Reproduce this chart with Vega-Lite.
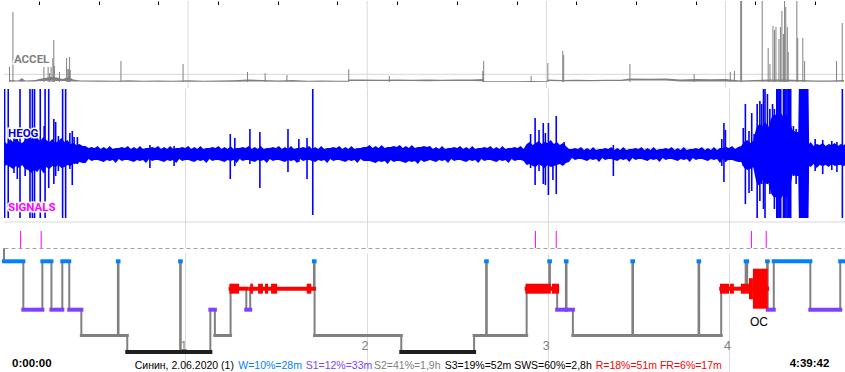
{
"$schema": "https://vega.github.io/schema/vega-lite/v6.json",
"background": "white",
"padding": 0,
"spacing": 0,
"bounds": "flush",
"resolve": {"scale": {"color": "independent"}},
"config": {"view": {"stroke": null}, "font": "Liberation Sans"},
"datasets": {
"accelBand": [
{"t":0,"lo":0.5,"hi":2},{"t":3,"lo":0.5,"hi":1.5},{"t":4.3,"lo":0.5,"hi":3.5},{"t":5.5,"lo":0.5,"hi":1.5},{"t":9,"lo":0.5,"hi":2},{"t":10,"lo":1,"hi":3},{"t":12,"lo":1,"hi":4},{"t":14,"lo":1.5,"hi":5},{"t":16,"lo":1,"hi":4.5},{"t":18,"lo":1,"hi":3},{"t":20,"lo":1,"hi":5},{"t":21.5,"lo":0.5,"hi":2.5},{"t":24,"lo":0.5,"hi":1.5},{"t":30,"lo":0.3,"hi":1.5},{"t":36,"lo":0.3,"hi":1.2},{"t":40,"lo":0.3,"hi":1.8},{"t":45,"lo":0.3,"hi":1.2},{"t":50,"lo":0.3,"hi":1.5},{"t":55,"lo":0.3,"hi":1.3},{"t":60,"lo":0.3,"hi":1.8},{"t":65,"lo":0.3,"hi":1.2},{"t":70,"lo":0.3,"hi":1.5},{"t":75,"lo":0.3,"hi":1.8},{"t":80,"lo":0.5,"hi":2.5},{"t":85,"lo":0.5,"hi":2},{"t":90,"lo":0.3,"hi":1.5},{"t":95,"lo":0.3,"hi":2},{"t":100,"lo":0.3,"hi":1.3},{"t":105,"lo":0.3,"hi":1.5},{"t":110,"lo":0.3,"hi":1.3},{"t":113.5,"lo":0.3,"hi":1.3},{"t":113.8,"lo":1,"hi":2.5},{"t":118,"lo":1,"hi":2.5},{"t":125,"lo":1,"hi":2.3},{"t":130,"lo":1,"hi":2.5},{"t":135,"lo":1,"hi":2.3},{"t":140,"lo":0.8,"hi":2.5},{"t":145,"lo":1,"hi":2.3},{"t":150,"lo":1,"hi":2.6},{"t":155,"lo":1,"hi":2.5},{"t":158.8,"lo":0.8,"hi":3},{"t":159.2,"lo":0,"hi":0.8},{"t":165,"lo":0,"hi":0.8},{"t":170,"lo":0,"hi":0.7},{"t":175,"lo":0,"hi":1},{"t":180,"lo":0,"hi":0.8},{"t":180.5,"lo":1,"hi":2.5},{"t":185,"lo":0.8,"hi":2},{"t":190,"lo":0.8,"hi":2.3},{"t":195,"lo":0.8,"hi":2},{"t":200,"lo":1,"hi":2.3},{"t":205,"lo":1,"hi":2.2},{"t":208,"lo":1.5,"hi":3.5},{"t":215,"lo":1.5,"hi":3.2},{"t":220,"lo":1.5,"hi":3.5},{"t":225,"lo":0.5,"hi":2.5},{"t":230,"lo":0.5,"hi":3},{"t":235,"lo":0.5,"hi":2.8},{"t":240,"lo":0.5,"hi":3},{"t":245,"lo":0.3,"hi":1.5},{"t":250,"lo":0.5,"hi":2},{"t":255,"lo":0.5,"hi":2.5},{"t":260,"lo":0.5,"hi":2.5},{"t":265,"lo":0.5,"hi":2},{"t":270,"lo":0.3,"hi":1.5},{"t":275,"lo":0.3,"hi":1.5},{"t":279.7,"lo":0.5,"hi":2}
],
"accelSpikes": [
{"t":0.17,"v":15},{"t":1.32,"v":70},{"t":4.3,"v":4},{"t":11.7,"v":15},{"t":13.1,"v":15},{"t":13.6,"v":9},{"t":14.1,"v":15},{"t":14.7,"v":24},{"t":15.0,"v":42},{"t":15.2,"v":16},{"t":16.9,"v":10},{"t":19.3,"v":24},{"t":19.7,"v":13},{"t":20.0,"v":13},{"t":20.3,"v":25},{"t":20.5,"v":12},{"t":37.5,"v":21},{"t":58.3,"v":18},{"t":79.9,"v":10},{"t":85.8,"v":9},{"t":93.1,"v":7},{"t":113.8,"v":12.7},{"t":127.4,"v":6},{"t":158.7,"v":11},{"t":159.0,"v":21},{"t":174.9,"v":6},{"t":180.5,"v":19},{"t":185.5,"v":31},{"t":185.8,"v":27},{"t":208.0,"v":18},{"t":229.5,"v":8},{"t":241.6,"v":10},{"t":243.0,"v":11},{"t":245.1,"v":81},{"t":245.4,"v":81},{"t":252.3,"v":81},{"t":254.3,"v":34},{"t":254.9,"v":18},{"t":255.9,"v":56},{"t":256.4,"v":52},{"t":256.9,"v":55},{"t":257.9,"v":43},{"t":258.4,"v":55},{"t":258.9,"v":71},{"t":259.4,"v":48},{"t":259.8,"v":81},{"t":260.2,"v":75},{"t":260.7,"v":55},{"t":261.0,"v":30},{"t":263.9,"v":81},{"t":264.2,"v":44},{"t":265.9,"v":44},{"t":266.5,"v":21},{"t":277.2,"v":21},{"t":279.1,"v":59}
],
"accelRef": [{"v":7.7}],
"accelLabel": [{"t":1.66,"v":21.8,"label":"ACCEL"}],
"heog": [
{"t":0,"hi":13,"lo":-12},{"t":1,"hi":10,"lo":-11},{"t":2,"hi":15,"lo":-13},{"t":3,"hi":12,"lo":-15},{"t":4,"hi":16,"lo":-12},{"t":5,"hi":12,"lo":-14},{"t":6,"hi":11,"lo":-11},{"t":7,"hi":14,"lo":-15},{"t":8,"hi":17,"lo":-16},{"t":9,"hi":15,"lo":-19},{"t":10,"hi":19,"lo":-16},{"t":11,"hi":16,"lo":-18},{"t":12,"hi":13,"lo":-14},{"t":13,"hi":17,"lo":-19},{"t":14,"hi":14,"lo":-13},{"t":15,"hi":12,"lo":-15},{"t":16,"hi":15,"lo":-12},{"t":17,"hi":11,"lo":-13},{"t":18,"hi":13,"lo":-11},{"t":19,"hi":16,"lo":-14},{"t":20,"hi":12,"lo":-13},{"t":21,"hi":14,"lo":-11},{"t":22,"hi":10,"lo":-12},{"t":23,"hi":11,"lo":-9},{"t":24,"hi":9,"lo":-10},{"t":25,"hi":10,"lo":-8},{"t":26,"hi":8,"lo":-9},{"t":27,"hi":8,"lo":-9},
{"t":28,"hi":6,"lo":-5},{"t":29,"hi":7,"lo":-7},
{"t":30,"hi":6,"lo":-6},{"t":31,"hi":8,"lo":-6},{"t":32,"hi":5,"lo":-7},{"t":33,"hi":7,"lo":-8},{"t":34,"hi":5,"lo":-6},{"t":35,"hi":8,"lo":-7},{"t":36,"hi":5,"lo":-6},{"t":37,"hi":6,"lo":-9},{"t":38,"hi":6,"lo":-5},{"t":39,"hi":7,"lo":-7},
{"t":40,"hi":6,"lo":-6},{"t":41,"hi":8,"lo":-6},{"t":42,"hi":5,"lo":-7},{"t":43,"hi":7,"lo":-8},{"t":44,"hi":5,"lo":-6},{"t":45,"hi":8,"lo":-7},{"t":46,"hi":5,"lo":-6},{"t":47,"hi":6,"lo":-9},{"t":48,"hi":6,"lo":-5},{"t":49,"hi":7,"lo":-7},
{"t":50,"hi":6,"lo":-6},{"t":51,"hi":8,"lo":-6},{"t":52,"hi":5,"lo":-7},{"t":53,"hi":7,"lo":-8},{"t":54,"hi":5,"lo":-6},{"t":55,"hi":8,"lo":-7},{"t":56,"hi":5,"lo":-6},{"t":57,"hi":6,"lo":-9},{"t":58,"hi":6,"lo":-5},{"t":59,"hi":7,"lo":-7},
{"t":60,"hi":6,"lo":-6},{"t":61,"hi":8,"lo":-6},{"t":62,"hi":5,"lo":-7},{"t":63,"hi":7,"lo":-8},{"t":64,"hi":5,"lo":-6},{"t":65,"hi":8,"lo":-7},{"t":66,"hi":5,"lo":-6},{"t":67,"hi":6,"lo":-9},{"t":68,"hi":6,"lo":-5},{"t":69,"hi":7,"lo":-7},
{"t":70,"hi":6,"lo":-6},{"t":71,"hi":8,"lo":-6},{"t":72,"hi":5,"lo":-7},{"t":73,"hi":7,"lo":-8},{"t":74,"hi":5,"lo":-6},{"t":75,"hi":8,"lo":-7},{"t":76,"hi":5,"lo":-6},{"t":77,"hi":6,"lo":-9},{"t":78,"hi":6,"lo":-5},{"t":79,"hi":7,"lo":-7},
{"t":80,"hi":6,"lo":-6},{"t":81,"hi":8,"lo":-6},{"t":82,"hi":5,"lo":-7},{"t":83,"hi":7,"lo":-8},{"t":84,"hi":5,"lo":-6},{"t":85,"hi":8,"lo":-7},{"t":86,"hi":5,"lo":-6},{"t":87,"hi":6,"lo":-9},{"t":88,"hi":6,"lo":-5},{"t":89,"hi":7,"lo":-7},
{"t":90,"hi":6,"lo":-6},{"t":91,"hi":8,"lo":-6},{"t":92,"hi":5,"lo":-7},{"t":93,"hi":7,"lo":-8},{"t":94,"hi":5,"lo":-6},{"t":95,"hi":8,"lo":-7},{"t":96,"hi":5,"lo":-6},{"t":97,"hi":6,"lo":-9},{"t":98,"hi":6,"lo":-5},{"t":99,"hi":7,"lo":-7},
{"t":100,"hi":6,"lo":-6},{"t":101,"hi":8,"lo":-6},{"t":102,"hi":5,"lo":-7},{"t":103,"hi":7,"lo":-8},{"t":104,"hi":5,"lo":-6},{"t":105,"hi":8,"lo":-7},{"t":106,"hi":5,"lo":-6},{"t":107,"hi":6,"lo":-9},{"t":108,"hi":6,"lo":-5},{"t":109,"hi":7,"lo":-7},
{"t":110,"hi":6,"lo":-6},{"t":111,"hi":8,"lo":-6},{"t":112,"hi":5,"lo":-7},{"t":113,"hi":7,"lo":-8},{"t":114,"hi":5,"lo":-6},{"t":115,"hi":8,"lo":-7},{"t":116,"hi":5,"lo":-6},{"t":117,"hi":6,"lo":-9},{"t":118,"hi":6,"lo":-5},{"t":119,"hi":7,"lo":-7},
{"t":120,"hi":7,"lo":-7},{"t":121,"hi":9,"lo":-7},{"t":122,"hi":6,"lo":-8},{"t":123,"hi":8,"lo":-9},{"t":124,"hi":6,"lo":-7},{"t":125,"hi":9,"lo":-8},{"t":126,"hi":6,"lo":-7},{"t":127,"hi":7,"lo":-10},{"t":128,"hi":7,"lo":-6},{"t":129,"hi":8,"lo":-8},
{"t":130,"hi":7,"lo":-7},{"t":131,"hi":9,"lo":-7},{"t":132,"hi":6,"lo":-8},{"t":133,"hi":8,"lo":-9},{"t":134,"hi":6,"lo":-7},{"t":135,"hi":9,"lo":-8},{"t":136,"hi":6,"lo":-7},{"t":137,"hi":7,"lo":-10},{"t":138,"hi":7,"lo":-6},{"t":139,"hi":8,"lo":-8},{"t":140,"hi":7,"lo":-7},
{"t":141,"hi":8,"lo":-6},{"t":142,"hi":5,"lo":-7},{"t":143,"hi":7,"lo":-8},{"t":144,"hi":5,"lo":-6},{"t":145,"hi":8,"lo":-7},{"t":146,"hi":5,"lo":-6},{"t":147,"hi":6,"lo":-9},{"t":148,"hi":6,"lo":-5},{"t":149,"hi":7,"lo":-7},
{"t":150,"hi":6,"lo":-6},{"t":151,"hi":8,"lo":-6},{"t":152,"hi":5,"lo":-7},{"t":153,"hi":7,"lo":-8},{"t":154,"hi":5,"lo":-6},{"t":155,"hi":8,"lo":-7},{"t":156,"hi":5,"lo":-6},{"t":157,"hi":6,"lo":-9},{"t":158,"hi":6,"lo":-5},{"t":159,"hi":7,"lo":-7},
{"t":160,"hi":6,"lo":-6},{"t":161,"hi":8,"lo":-6},{"t":162,"hi":5,"lo":-7},{"t":163,"hi":7,"lo":-8},{"t":164,"hi":5,"lo":-6},{"t":165,"hi":8,"lo":-7},{"t":166,"hi":5,"lo":-6},{"t":167,"hi":6,"lo":-9},{"t":168,"hi":6,"lo":-5},{"t":169,"hi":7,"lo":-7},
{"t":170,"hi":6,"lo":-6},{"t":171,"hi":8,"lo":-6},{"t":172,"hi":5,"lo":-7},
{"t":173,"hi":10,"lo":-11},{"t":174,"hi":12,"lo":-10},{"t":175,"hi":9,"lo":-12},{"t":176,"hi":11,"lo":-13},{"t":177,"hi":13,"lo":-10},{"t":178,"hi":10,"lo":-12},{"t":179,"hi":12,"lo":-14},{"t":180,"hi":11,"lo":-11},{"t":181,"hi":14,"lo":-13},{"t":182,"hi":10,"lo":-12},{"t":183,"hi":12,"lo":-11},{"t":184,"hi":9,"lo":-10},{"t":185,"hi":11,"lo":-12},{"t":186,"hi":8,"lo":-9},
{"t":187,"hi":5,"lo":-8},{"t":188,"hi":5,"lo":-4},{"t":189,"hi":6,"lo":-6},
{"t":190,"hi":5,"lo":-5},{"t":191,"hi":7,"lo":-5},{"t":192,"hi":4,"lo":-6},{"t":193,"hi":6,"lo":-7},{"t":194,"hi":4,"lo":-5},{"t":195,"hi":7,"lo":-6},{"t":196,"hi":4,"lo":-5},{"t":197,"hi":5,"lo":-8},{"t":198,"hi":5,"lo":-4},{"t":199,"hi":6,"lo":-6},
{"t":200,"hi":5,"lo":-5},{"t":201,"hi":7,"lo":-5},{"t":202,"hi":4,"lo":-6},{"t":203,"hi":6,"lo":-7},{"t":204,"hi":4,"lo":-5},{"t":205,"hi":7,"lo":-6},{"t":206,"hi":4,"lo":-5},{"t":207,"hi":5,"lo":-8},{"t":208,"hi":5,"lo":-4},{"t":209,"hi":6,"lo":-6},
{"t":210,"hi":5,"lo":-5},{"t":211,"hi":7,"lo":-5},{"t":212,"hi":4,"lo":-6},{"t":213,"hi":6,"lo":-7},{"t":214,"hi":4,"lo":-5},{"t":215,"hi":7,"lo":-6},{"t":216,"hi":4,"lo":-5},{"t":217,"hi":5,"lo":-8},{"t":218,"hi":5,"lo":-4},{"t":219,"hi":6,"lo":-6},
{"t":220,"hi":5,"lo":-5},{"t":221,"hi":7,"lo":-5},{"t":222,"hi":4,"lo":-6},{"t":223,"hi":6,"lo":-7},{"t":224,"hi":4,"lo":-5},{"t":225,"hi":7,"lo":-6},{"t":226,"hi":4,"lo":-5},{"t":227,"hi":5,"lo":-8},{"t":228,"hi":5,"lo":-4},{"t":229,"hi":6,"lo":-6},
{"t":230,"hi":5,"lo":-5},{"t":231,"hi":7,"lo":-5},{"t":232,"hi":4,"lo":-6},{"t":233,"hi":6,"lo":-7},{"t":234,"hi":4,"lo":-5},{"t":235,"hi":7,"lo":-6},{"t":236,"hi":4,"lo":-5},
{"t":237,"hi":6,"lo":-9},{"t":238,"hi":6,"lo":-5},{"t":239,"hi":7,"lo":-7},{"t":240,"hi":6,"lo":-6},{"t":241,"hi":8,"lo":-6},{"t":242,"hi":5,"lo":-7},{"t":243,"hi":7,"lo":-8},{"t":244,"hi":8,"lo":-8},
{"t":245,"hi":12,"lo":-14},{"t":246,"hi":14,"lo":-16},{"t":247,"hi":11,"lo":-15},{"t":248,"hi":13,"lo":-13},
{"t":249,"hi":26,"lo":-28},{"t":250,"hi":30,"lo":-32},{"t":251,"hi":28,"lo":-26},{"t":252,"hi":32,"lo":-30},{"t":253,"hi":27,"lo":-29},
{"t":254,"hi":36,"lo":-40},{"t":255,"hi":40,"lo":-44},{"t":256,"hi":38,"lo":-42},{"t":257,"hi":42,"lo":-45},{"t":258,"hi":37,"lo":-41},{"t":259,"hi":40,"lo":-44},{"t":260,"hi":34,"lo":-38},
{"t":261,"hi":24,"lo":-20},{"t":262,"hi":22,"lo":-22},{"t":262.9,"hi":22,"lo":-22},
{"t":263.1,"hi":65,"lo":-64},{"t":264,"hi":65,"lo":-64},{"t":265,"hi":65,"lo":-64},{"t":266.3,"hi":65,"lo":-64},
{"t":266.5,"hi":10,"lo":-12},{"t":267,"hi":12,"lo":-13},{"t":268,"hi":8,"lo":-10},{"t":269,"hi":10,"lo":-14},{"t":270,"hi":9,"lo":-11},{"t":271,"hi":11,"lo":-12},{"t":272,"hi":8,"lo":-11},{"t":273,"hi":10,"lo":-13},{"t":274,"hi":9,"lo":-10},{"t":275,"hi":11,"lo":-12},{"t":276,"hi":8,"lo":-11},{"t":277,"hi":10,"lo":-11},{"t":278,"hi":9,"lo":-12},{"t":279,"hi":11,"lo":-11},{"t":279.7,"hi":9,"lo":-11}
],
"heogSpikes": [
{"t":0.2,"hi":65,"lo":-64},{"t":1.4,"hi":65,"lo":-64},{"t":5.3,"hi":65,"lo":-64},{"t":8.6,"hi":65,"lo":-64},{"t":9.4,"hi":65,"lo":-64},{"t":10.1,"hi":65,"lo":-64},{"t":12.0,"hi":65,"lo":-64},{"t":13.6,"hi":65,"lo":-64},{"t":14.8,"hi":65,"lo":-34},{"t":19.4,"hi":65,"lo":-64},{"t":20.4,"hi":65,"lo":-64},
{"t":3.3,"hi":23,"lo":-19},{"t":4.4,"hi":15,"lo":-25},{"t":7.0,"hi":18,"lo":-22},{"t":13.3,"hi":28,"lo":-19},{"t":16.5,"hi":35,"lo":-30},{"t":17.1,"hi":32,"lo":-22},{"t":18.0,"hi":18,"lo":-17},{"t":21.8,"hi":21,"lo":-15},{"t":22.6,"hi":23,"lo":-31},{"t":23.2,"hi":17,"lo":-10},{"t":24.3,"hi":17,"lo":-10},{"t":48.3,"hi":9,"lo":-14},{"t":56.3,"hi":8,"lo":-12},
{"t":74.9,"hi":20,"lo":-25},{"t":76.4,"hi":16,"lo":-12},{"t":81.4,"hi":25,"lo":-10},{"t":84.7,"hi":22,"lo":-34},{"t":94.0,"hi":25,"lo":-18},{"t":97.6,"hi":15,"lo":-8},{"t":100.3,"hi":16,"lo":-25},{"t":102.2,"hi":65,"lo":-61},
{"t":174.3,"hi":20,"lo":-14},{"t":175.8,"hi":36,"lo":-31},{"t":177.1,"hi":24,"lo":-17},{"t":178.5,"hi":31,"lo":-30},{"t":179.2,"hi":21,"lo":-31},{"t":180.2,"hi":31,"lo":-41},{"t":181.7,"hi":10,"lo":-26},{"t":182.8,"hi":38,"lo":-40},{"t":185.4,"hi":12,"lo":-8},{"t":201.7,"hi":9,"lo":-22},
{"t":237.6,"hi":15,"lo":-12},{"t":238.3,"hi":31,"lo":-28},{"t":238.8,"hi":24,"lo":-8},{"t":244.7,"hi":26,"lo":-12},{"t":245.4,"hi":50,"lo":-50},{"t":246.6,"hi":23,"lo":-39},{"t":247.5,"hi":41,"lo":-37},{"t":248.3,"hi":20,"lo":-14},{"t":249.3,"hi":50,"lo":-64},{"t":250.2,"hi":53,"lo":-47},{"t":250.8,"hi":50,"lo":-30},{"t":251.4,"hi":65,"lo":-55},{"t":251.9,"hi":65,"lo":-64},{"t":252.7,"hi":60,"lo":-30},{"t":253.5,"hi":45,"lo":-40},{"t":254.4,"hi":50,"lo":-35},{"t":255.0,"hi":45,"lo":-55},
{"t":255.8,"hi":65,"lo":-64},{"t":256.1,"hi":65,"lo":-64},{"t":256.5,"hi":65,"lo":-64},{"t":256.8,"hi":65,"lo":-64},{"t":257.1,"hi":65,"lo":-64},{"t":258.0,"hi":65,"lo":-64},{"t":258.4,"hi":65,"lo":-64},{"t":258.8,"hi":65,"lo":-64},{"t":259.2,"hi":65,"lo":-64},{"t":259.6,"hi":65,"lo":-64},{"t":260.0,"hi":65,"lo":-64},{"t":260.4,"hi":65,"lo":-64},
{"t":261.3,"hi":28,"lo":-22},{"t":262.2,"hi":25,"lo":-30},{"t":268.5,"hi":15,"lo":-17},{"t":271.0,"hi":14,"lo":-20},{"t":274.0,"hi":13,"lo":-16},{"t":275.7,"hi":12,"lo":-18},{"t":277.5,"hi":65,"lo":-64},{"t":279.1,"hi":65,"lo":-64}
],
"heogRef": [{"v":5.3},{"v":-68}],
"heogLabels": [{"t":1.35,"v":20.5,"label":"HEOG"},{"t":1.35,"v":-54,"label":"SIGNALS"}],
"sigs": [{"t":5.5},{"t":12.3},{"t":175.9},{"t":182.8},{"t":247.4},{"t":252.3}],
"hours": [{"t":60},{"t":120},{"t":180},{"t":240}],
"hyp": [
{"t0":0,"t1":0,"stage":"U"},{"t0":0,"t1":6.4,"stage":"W"},{"t0":6.4,"t1":12.7,"stage":"S1"},{"t0":12.7,"t1":15.7,"stage":"W"},{"t0":15.7,"t1":19.3,"stage":"S1"},{"t0":19.3,"t1":21.6,"stage":"W"},{"t0":21.6,"t1":25.6,"stage":"S1"},{"t0":25.6,"t1":37.7,"stage":"S2"},{"t0":37.7,"t1":37.9,"stage":"W"},{"t0":37.9,"t1":40.8,"stage":"S2"},{"t0":40.8,"t1":58.3,"stage":"S3"},{"t0":58.3,"t1":58.5,"stage":"W"},{"t0":58.5,"t1":68.3,"stage":"S3"},{"t0":68.3,"t1":69.8,"stage":"S1"},{"t0":69.8,"t1":75.0,"stage":"S2"},{"t0":75.0,"t1":80.2,"stage":"R"},{"t0":80.2,"t1":81.5,"stage":"S1"},{"t0":81.5,"t1":102.6,"stage":"R"},{"t0":102.6,"t1":102.8,"stage":"W"},{"t0":102.8,"t1":131.5,"stage":"S2"},{"t0":131.5,"t1":155.6,"stage":"S3"},{"t0":155.6,"t1":159.6,"stage":"S2"},{"t0":159.6,"t1":159.8,"stage":"W"},{"t0":159.8,"t1":173.0,"stage":"S2"},{"t0":173.0,"t1":180.5,"stage":"R"},{"t0":180.5,"t1":180.7,"stage":"W"},{"t0":180.7,"t1":183.1,"stage":"R"},{"t0":183.1,"t1":186.0,"stage":"S1"},{"t0":186.0,"t1":186.2,"stage":"W"},{"t0":186.2,"t1":188.3,"stage":"S1"},{"t0":188.3,"t1":208.0,"stage":"S2"},{"t0":208.0,"t1":208.2,"stage":"W"},{"t0":208.2,"t1":229.9,"stage":"S2"},{"t0":229.9,"t1":230.1,"stage":"W"},{"t0":230.1,"t1":237.4,"stage":"S2"},{"t0":237.4,"t1":245.5,"stage":"R"},{"t0":245.5,"t1":246.0,"stage":"W"},{"t0":246.0,"t1":252.6,"stage":"R"},{"t0":252.6,"t1":252.8,"stage":"W"},{"t0":252.8,"t1":254.8,"stage":"S1"},{"t0":254.8,"t1":266.9,"stage":"W"},{"t0":266.9,"t1":276.8,"stage":"S1"},{"t0":276.8,"t1":279.7,"stage":"W"}
],
"phasic": [
{"t0":74.6,"t1":77.8,"stage":"R","dens":1},{"t0":81.5,"t1":82.4,"stage":"R","dens":1},{"t0":84.1,"t1":85.7,"stage":"R","dens":1},{"t0":86.4,"t1":87.4,"stage":"R","dens":1},{"t0":88.4,"t1":90.4,"stage":"R","dens":1},{"t0":100.2,"t1":101.7,"stage":"R","dens":1},{"t0":172.6,"t1":181.0,"stage":"R","dens":1},{"t0":181.4,"t1":183.7,"stage":"R","dens":1},{"t0":237.0,"t1":240.0,"stage":"R","dens":1},{"t0":240.3,"t1":241.6,"stage":"R","dens":1},{"t0":243.9,"t1":245.9,"stage":"R","dens":1},{"t0":245.9,"t1":246.6,"stage":"R","dens":1},{"t0":246.6,"t1":247.9,"stage":"R","dens":2},{"t0":247.9,"t1":252.8,"stage":"R","dens":3}
],
"events": [{"t":249.9,"depth":2.465,"label":"OC"}],
"footTimes": [{"t":2.65,"label":"0:00:00"},{"t":260.07,"label":"4:39:42"}],
"footStats": [
{"t":43.26,"label":"Синин, 2.06.2020 (1)","grp":"info"},
{"t":77.56,"label":"W=10%=28m","grp":"W"},
{"t":99.86,"label":"S1=12%=33m","grp":"S1"},
{"t":122.47,"label":"S2=41%=1,9h","grp":"S2"},
{"t":145.87,"label":"S3=19%=52m SWS=60%=2,8h","grp":"S3"},
{"t":195.86,"label":"R=18%=51m FR=6%=17m","grp":"R"}
]
},
"vconcat": [
{
"width": 845, "height": 87,
"layer": [
{"data": {"name": "hours"}, "mark": {"type": "rule", "color": "#dcdcdc", "strokeWidth": 1},
 "encoding": {
  "x": {"field": "t", "type": "quantitative", "scale": {"domain": [0, 279.7], "nice": false, "zero": false},
        "axis": {"orient": "top", "values": [10,20,30,40,50,60,70,80,90,100,110,120,130,140,150,160,170,180,190,200,210,220,230,240,250,260,270],
                 "labels": false, "domain": false, "ticks": true, "tickColor": "#000000", "tickWidth": 1, "tickSize": -3.5, "grid": false, "title": null}}}},
{"data": {"name": "accelRef"}, "mark": {"type": "rule", "color": "#d8d8d8", "strokeWidth": 1},
 "encoding": {"y": {"field": "v", "type": "quantitative", "scale": {"domain": [-6, 81], "nice": false, "zero": false}, "axis": null}}},
{"data": {"name": "accelBand"}, "mark": {"type": "area", "color": "#808080", "clip": true},
 "encoding": {
  "x": {"field": "t", "type": "quantitative"},
  "y": {"field": "hi", "type": "quantitative", "axis": null},
  "y2": {"field": "lo"}}},
{"data": {"name": "accelSpikes"}, "mark": {"type": "bar", "color": "#808080", "width": 1, "orient": "vertical", "clip": true},
 "encoding": {
  "x": {"field": "t", "type": "quantitative"},
  "y": {"field": "v", "type": "quantitative", "axis": null}}},
{"data": {"name": "accelLabel"}, "mark": {"type": "text", "font": "Roboto", "fontWeight": "bold", "fontSize": 11.5, "align": "left", "baseline": "middle", "fill": "white", "stroke": "white", "strokeWidth": 3},
 "encoding": {"x": {"field": "t", "type": "quantitative"}, "y": {"field": "v", "type": "quantitative", "axis": null}, "text": {"field": "label"}}},
{"data": {"name": "accelLabel"}, "mark": {"type": "text", "font": "Roboto", "fontWeight": "bold", "fontSize": 11.5, "align": "left", "baseline": "middle", "color": "#808080"},
 "encoding": {"x": {"field": "t", "type": "quantitative"}, "y": {"field": "v", "type": "quantitative", "axis": null}, "text": {"field": "label"}}}
]
},
{
"width": 845, "height": 143,
"layer": [
{"data": {"name": "heogRef"}, "mark": {"type": "rule", "color": "#d8d8d8", "strokeWidth": 1},
 "encoding": {"y": {"field": "v", "type": "quantitative", "scale": {"domain": [-77, 66], "nice": false, "zero": false}, "axis": null}}},
{"data": {"name": "heog"}, "mark": {"type": "area", "color": "#0000ff", "clip": true},
 "encoding": {
  "x": {"field": "t", "type": "quantitative", "scale": {"domain": [0, 279.7], "nice": false, "zero": false},
        "axis": {"values": [60,120,180,240], "grid": true, "gridColor": "#dcdcdc", "labels": false, "ticks": false, "domain": false, "title": null}},
  "y": {"field": "hi", "type": "quantitative", "axis": null},
  "y2": {"field": "lo"}}},
{"data": {"name": "heogSpikes"}, "mark": {"type": "rule", "color": "#0000ff", "strokeWidth": 1.6, "clip": true},
 "encoding": {
  "x": {"field": "t", "type": "quantitative"},
  "y": {"field": "hi", "type": "quantitative", "axis": null},
  "y2": {"field": "lo"}}},
{"data": {"name": "heogLabels"}, "mark": {"type": "text", "font": "Roboto", "fontWeight": "bold", "fontSize": 11.5, "align": "left", "baseline": "middle", "fill": "white", "stroke": "white", "strokeWidth": 3},
 "encoding": {"x": {"field": "t", "type": "quantitative"}, "y": {"field": "v", "type": "quantitative", "axis": null}, "text": {"field": "label"}}},
{"data": {"name": "heogLabels"}, "mark": {"type": "text", "font": "Roboto", "fontWeight": "bold", "fontSize": 11.5, "align": "left", "baseline": "middle"},
 "encoding": {"x": {"field": "t", "type": "quantitative"}, "y": {"field": "v", "type": "quantitative", "axis": null}, "text": {"field": "label"},
  "color": {"field": "label", "type": "nominal", "scale": {"domain": ["HEOG", "SIGNALS"], "range": ["#0000dd", "#ff00ff"]}, "legend": null}}}
]
},
{
"width": 845, "height": 17,
"layer": [
{"data": {"name": "sigs"}, "mark": {"type": "rule", "color": "#ff00ff", "strokeWidth": 1},
 "encoding": {
  "x": {"field": "t", "type": "quantitative", "scale": {"domain": [0, 279.7], "nice": false, "zero": false},
        "axis": {"values": [60,120,180,240], "grid": true, "gridColor": "#dcdcdc", "labels": false, "ticks": false, "domain": false, "title": null}}}}
]
},
{
"width": 845, "height": 109,
"layer": [
{"data": {"name": "hyp"},
 "transform": [{"calculate": "indexof(['U','W','R','S1','S2','S3'], datum.stage) - 1", "as": "depth"}],
 "mark": {"type": "line", "color": "#808080", "strokeWidth": 2, "interpolate": "step-after"},
 "encoding": {
  "x": {"field": "t0", "type": "quantitative", "scale": {"domain": [0, 279.7], "nice": false, "zero": false},
        "axis": {"values": [60,120,180,240], "labelExpr": "datum.value / 60", "grid": true, "gridColor": "#dcdcdc", "ticks": false, "tickSize": 0, "domain": false,
                 "labelColor": "#808080", "labelFont": "Liberation Sans", "labelFontSize": 12.5, "labelPadding": -7.3, "labelBaseline": "alphabetic", "labelAlign": "center", "labelFlush": false, "labelOffset": -2, "labelOverlap": false, "title": null}},
  "y": {"field": "depth", "type": "quantitative", "scale": {"domain": [-1,0,1,2,3,4], "range": [0.3,13.3,40.7,61.7,87.5,104], "nice": false, "zero": false},
        "axis": {"values": [-1], "grid": true, "gridColor": "#a0a0a0", "gridDash": [4, 3], "labels": false, "ticks": false, "domain": false, "title": null}},
  "order": {"field": "t1", "type": "quantitative"}}},
{"data": {"name": "hyp"},
 "transform": [{"filter": "datum.stage !== 'U' && datum.stage !== 'S2'"}, {"calculate": "indexof(['U','W','R','S1','S2','S3'], datum.stage) - 1", "as": "depth"}],
 "mark": {"type": "rule", "strokeCap": "square", "strokeWidth": 4},
 "encoding": {
  "x": {"field": "t0", "type": "quantitative"},
  "x2": {"field": "t1"},
  "y": {"field": "depth", "type": "quantitative"},
  "color": {"field": "stage", "type": "nominal", "scale": {"domain": ["W","R","S1","S2","S3"], "range": ["#0080ff","#ff0000","#8040ff","#808080","#202020"]}, "legend": null}}},
{"data": {"name": "hyp"},
 "transform": [{"filter": "datum.stage === 'S2'"}, {"calculate": "indexof(['U','W','R','S1','S2','S3'], datum.stage) - 1", "as": "depth"}],
 "mark": {"type": "rule", "strokeCap": "square", "strokeWidth": 3, "color": "#808080"},
 "encoding": {
  "x": {"field": "t0", "type": "quantitative"},
  "x2": {"field": "t1"},
  "y": {"field": "depth", "type": "quantitative"}}},
{"data": {"name": "phasic"},
 "transform": [{"filter": "datum.dens === 1"}, {"calculate": "indexof(['U','W','R','S1','S2','S3'], datum.stage) - 1", "as": "depth"}],
 "mark": {"type": "rule", "strokeCap": "butt", "strokeWidth": 10, "color": "#ff0000"},
 "encoding": {
  "x": {"field": "t0", "type": "quantitative"},
  "x2": {"field": "t1"},
  "y": {"field": "depth", "type": "quantitative"}}},
{"data": {"name": "phasic"},
 "transform": [{"filter": "datum.dens === 2"}, {"calculate": "indexof(['U','W','R','S1','S2','S3'], datum.stage) - 1", "as": "depth"}],
 "mark": {"type": "rule", "strokeCap": "butt", "strokeWidth": 21, "color": "#ff0000"},
 "encoding": {
  "x": {"field": "t0", "type": "quantitative"},
  "x2": {"field": "t1"},
  "y": {"field": "depth", "type": "quantitative"}}},
{"data": {"name": "phasic"},
 "transform": [{"filter": "datum.dens === 3"}, {"calculate": "indexof(['U','W','R','S1','S2','S3'], datum.stage) - 1", "as": "depth"}],
 "mark": {"type": "rule", "strokeCap": "butt", "strokeWidth": 40, "color": "#ff0000"},
 "encoding": {
  "x": {"field": "t0", "type": "quantitative"},
  "x2": {"field": "t1"},
  "y": {"field": "depth", "type": "quantitative"}}},
{"data": {"name": "events"}, "mark": {"type": "text", "font": "Liberation Sans", "fontSize": 12, "align": "center", "baseline": "middle", "color": "#000000"},
 "encoding": {"x": {"field": "t", "type": "quantitative"}, "y": {"field": "depth", "type": "quantitative"}, "text": {"field": "label"}}}
]
},
{
"width": 845, "height": 16,
"layer": [
{"data": {"name": "footStats"}, "mark": {"type": "text", "font": "Liberation Sans", "fontSize": 10.5, "align": "left", "baseline": "middle", "dy": 0.5},
 "encoding": {
  "x": {"field": "t", "type": "quantitative", "scale": {"domain": [0, 279.7], "nice": false, "zero": false},
        "axis": {"values": [60,120,180,240], "grid": true, "gridColor": "#dcdcdc", "labels": false, "ticks": false, "domain": false, "title": null}},
  "text": {"field": "label"},
  "color": {"field": "grp", "type": "nominal", "scale": {"domain": ["info","W","S1","S2","S3","R"], "range": ["#000000","#0080ff","#8040ff","#808080","#000000","#ff0000"]}, "legend": null}}},
{"data": {"name": "footTimes"}, "mark": {"type": "text", "font": "Liberation Sans", "fontWeight": "bold", "fontSize": 11.5, "align": "left", "baseline": "middle", "dy": -1, "color": "#000000"},
 "encoding": {"x": {"field": "t", "type": "quantitative"}, "text": {"field": "label"}}}
]
}
]
}
